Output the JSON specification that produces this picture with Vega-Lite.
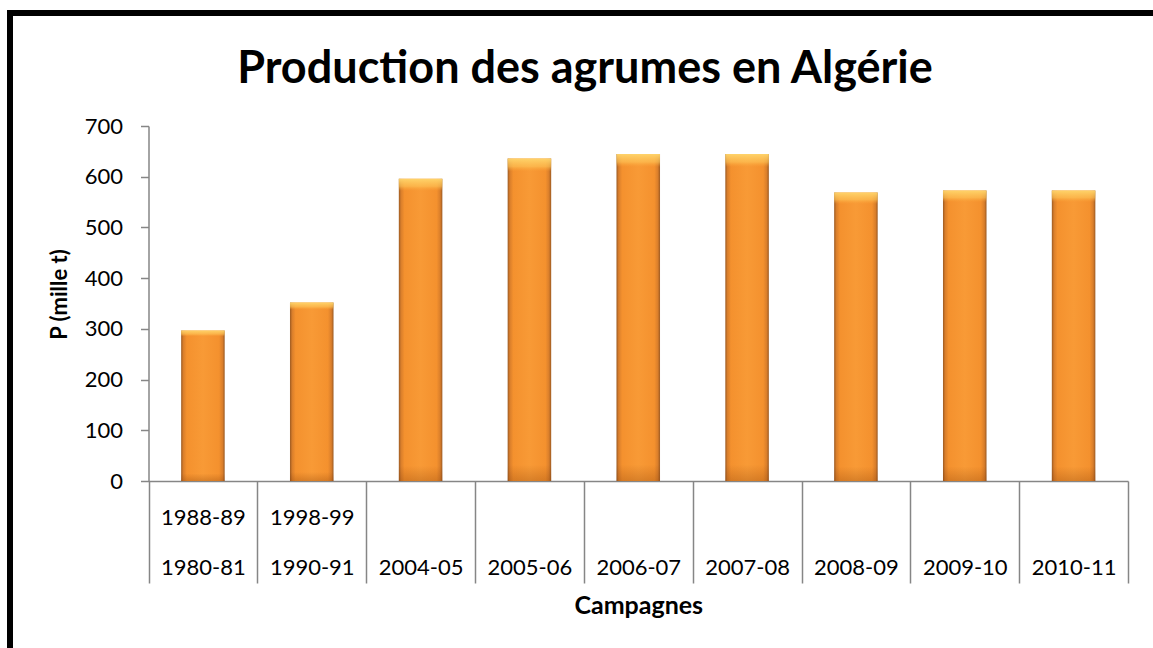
{
  "$schema": "https://vega.github.io/schema/vega-lite/v6.json",
  "width": 1150,
  "height": 640,
  "autosize": {"type": "none"},
  "padding": {"left": 10, "top": 13, "right": -7, "bottom": -5},
  "background": "white",
  "config": {
    "view": {"stroke": "black", "strokeWidth": 6, "fill": "white"},
    "font": "Lato"
  },
  "title": {
    "text": "Production des agrumes en Algérie",
    "font": "Lato",
    "fontSize": 45,
    "fontWeight": "bold",
    "color": "black",
    "anchor": "middle",
    "frame": "group",
    "baseline": "alphabetic",
    "offset": -115
  },
  "data": {
    "values": [
      {"campagne": "1980-81", "production": 297},
      {"campagne": "1990-91", "production": 352},
      {"campagne": "2004-05", "production": 596},
      {"campagne": "2005-06", "production": 636},
      {"campagne": "2006-07", "production": 645},
      {"campagne": "2007-08", "production": 645},
      {"campagne": "2008-09", "production": 569},
      {"campagne": "2009-10", "production": 573},
      {"campagne": "2010-11", "production": 573}
    ]
  },
  "encoding": {
    "x": {
      "field": "campagne",
      "type": "nominal",
      "sort": null,
      "scale": {"range": [138.5, 1118], "paddingInner": 0, "paddingOuter": 0},
      "axis": {
        "orient": "bottom",
        "offset": -172,
        "title": "Campagnes",
        "titleFont": "Lato",
        "titleFontSize": 25,
        "titleFontWeight": "bold",
        "titleColor": "black",
        "titleY": 124,
        "titleBaseline": "middle",
        "labelAngle": 0,
        "labelFont": "Lato",
        "labelFontSize": 22,
        "labelColor": "black",
        "labelExpr": "datum.value == '1980-81' ? ['1988-89', '1980-81'] : datum.value == '1990-91' ? ['1998-99', '1990-91'] : ['', datum.value]",
        "labelLineHeight": 50,
        "labelBaseline": "middle",
        "labelPadding": -66,
        "labelOverlap": false,
        "labelBound": false,
        "labelFlush": false,
        "tickBand": "extent",
        "tickSize": 102,
        "tickColor": "#868686",
        "tickWidth": 1.5,
        "domainColor": "#868686",
        "domainWidth": 1.5,
        "grid": false
      }
    },
    "y": {
      "field": "production",
      "type": "quantitative",
      "scale": {"domain": [0, 700], "range": [468, 113], "nice": false, "zero": true},
      "axis": {
        "orient": "left",
        "offset": -138.5,
        "values": [0, 100, 200, 300, 400, 500, 600, 700],
        "title": "P (mille t)",
        "titleFont": "Lato",
        "titleFontSize": 22,
        "titleFontWeight": "bold",
        "titleColor": "black",
        "titleX": -89.5,
        "titleY": 281,
        "titleAngle": -90,
        "titleBaseline": "middle",
        "titleAlign": "center",
        "labelFont": "Lato",
        "labelFontSize": 22,
        "labelColor": "black",
        "labelPadding": 18,
        "tickSize": 8,
        "tickColor": "#868686",
        "tickWidth": 1.5,
        "domainColor": "#868686",
        "domainWidth": 1.5,
        "grid": false
      }
    }
  },
  "layer": [
    {
      "mark": {
        "type": "bar",
        "width": {"band": 0.4},
        "color": {
          "gradient": "linear",
          "x1": 0, "y1": 0, "x2": 1, "y2": 0,
          "stops": [
            {"offset": 0, "color": "#9C5A22"},
            {"offset": 0.05, "color": "#D97E2B"},
            {"offset": 0.13, "color": "#F4912E"},
            {"offset": 0.5, "color": "#F89A36"},
            {"offset": 0.87, "color": "#F4912E"},
            {"offset": 0.95, "color": "#D97E2B"},
            {"offset": 1, "color": "#9C5A22"}
          ]
        }
      }
    },
    {
      "mark": {
        "type": "bar",
        "width": {"band": 0.4},
        "color": {
          "gradient": "linear",
          "x1": 0, "y1": 0, "x2": 0, "y2": 1,
          "stops": [
            {"offset": 0, "color": "rgba(255,215,110,0.95)"},
            {"offset": 0.025, "color": "rgba(255,200,90,0.6)"},
            {"offset": 0.04, "color": "rgba(255,170,60,0)"},
            {"offset": 0.95, "color": "rgba(120,50,0,0)"},
            {"offset": 1, "color": "rgba(120,50,0,0.25)"}
          ]
        }
      }
    }
  ]
}
